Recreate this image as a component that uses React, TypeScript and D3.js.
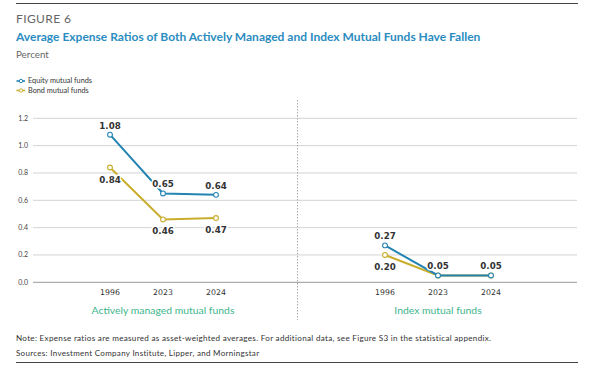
import React, { useRef, useEffect } from 'react';
import * as d3 from 'd3';

const years = ['1996', '2023', '2024'];
const panels = ['Actively managed mutual funds', 'Index mutual funds'];
const seriesNames = ['Equity mutual funds', 'Bond mutual funds'];
const activeEquity = [1.08, 0.65, 0.64];
const activeBond = [0.84, 0.46, 0.47];
const indexEquity = [0.27, 0.05, 0.05];
const indexBond = [0.2, 0.05, 0.05];
const yTicks = [0, 0.2, 0.4, 0.6, 0.8, 1.0, 1.2];

const BLUE = '#2384b2';
const GOLD = '#c9ad2c';
const FONT = 'Lato, "Open Sans", sans-serif';
const LABEL_FONT = '"DejaVu Sans", Verdana, sans-serif';

const App: React.FC = () => {
  const ref = useRef<SVGSVGElement>(null);

  useEffect(() => {
    const svg = d3.select(ref.current);
    svg.selectAll('*').remove();
    const width = 596;
    const height = 370;
    svg.attr('width', width).attr('height', height);

    // header / footer rules
    svg.append('line').attr('x1', 16).attr('x2', 578).attr('y1', 3.5).attr('y2', 3.5)
      .attr('stroke', '#444').attr('stroke-width', 1.2);
    svg.append('line').attr('x1', 16).attr('x2', 578).attr('y1', 362.5).attr('y2', 362.5)
      .attr('stroke', '#444').attr('stroke-width', 1.2);

    svg.append('text').attr('x', 16).attr('y', 22.5).text('FIGURE 6')
      .attr('font-family', FONT).attr('font-size', 12).attr('fill', '#666').attr('letter-spacing', 0.4);
    svg.append('text').attr('x', 16).attr('y', 41)
      .text('Average Expense Ratios of Both Actively Managed and Index Mutual Funds Have Fallen')
      .attr('font-family', FONT).attr('font-size', 12).attr('font-weight', 'bold').attr('fill', '#2b8cc0');
    svg.append('text').attr('x', 16).attr('y', 57.5).text('Percent')
      .attr('font-family', FONT).attr('font-size', 9.8).attr('fill', '#666');

    // legend
    const legendColors = [BLUE, GOLD];
    seriesNames.forEach((name, i) => {
      const ly = 81 + i * 9.5;
      svg.append('line').attr('x1', 16.5).attr('x2', 25).attr('y1', ly).attr('y2', ly)
        .attr('stroke', legendColors[i]).attr('stroke-width', 1.6);
      svg.append('circle').attr('cx', 21).attr('cy', ly).attr('r', 1.7)
        .attr('fill', '#fff').attr('stroke', legendColors[i]).attr('stroke-width', 1);
      svg.append('text').attr('x', 28).attr('y', ly + 2.4).text(name)
        .attr('font-family', FONT).attr('font-size', 7.3).attr('fill', '#333');
    });

    const y = d3.scaleLinear().domain([0, 1.2]).range([282.3, 118.3]);

    // gridlines
    const grid = svg.append('g');
    grid.selectAll('line').data(yTicks).join('line')
      .attr('x1', 33).attr('x2', 577)
      .attr('y1', d => y(d)).attr('y2', d => y(d))
      .attr('stroke', d => (d === 0 ? '#999' : '#d4d4d4')).attr('stroke-width', 1);
    grid.selectAll('text').data(yTicks).join('text')
      .attr('x', 28).attr('y', d => y(d) + 2.5).attr('text-anchor', 'end')
      .text(d => d.toFixed(1))
      .attr('font-family', FONT).attr('font-size', 7).attr('fill', '#444');

    // divider
    svg.append('line').attr('x1', 297.5).attr('x2', 297.5).attr('y1', 100).attr('y2', 320)
      .attr('stroke', '#aaa').attr('stroke-width', 1).attr('stroke-dasharray', '1.5,1.5');

    const xLeft = d3.scalePoint<string>().domain(years).range([110, 216]);
    const xRight = d3.scalePoint<string>().domain(years).range([385, 491]);

    type Series = { values: number[]; color: string; pos: ('above' | 'below' | 'none')[] };
    const panelDefs: { x: d3.ScalePoint<string>; name: string; series: Series[] }[] = [
      {
        x: xLeft, name: panels[0], series: [
          { values: activeBond, color: GOLD, pos: ['below', 'below', 'below'] },
          { values: activeEquity, color: BLUE, pos: ['above', 'above', 'above'] },
        ],
      },
      {
        x: xRight, name: panels[1], series: [
          { values: indexBond, color: GOLD, pos: ['below', 'none', 'none'] },
          { values: indexEquity, color: BLUE, pos: ['above', 'above', 'above'] },
        ],
      },
    ];

    panelDefs.forEach(p => {
      const g = svg.append('g');
      // x tick labels
      g.selectAll('text.tick').data(years).join('text').attr('class', 'tick')
        .attr('x', d => p.x(d)!).attr('y', 295).attr('text-anchor', 'middle')
        .text(d => d)
        .attr('font-family', LABEL_FONT).attr('font-size', 7.8).attr('fill', '#333');
      const [a, b] = p.x.range();
      g.append('text').attr('x', (a + b) / 2).attr('y', 313.5).attr('text-anchor', 'middle')
        .text(p.name)
        .attr('font-family', FONT).attr('font-size', 10.4).attr('fill', '#3db58c');

      const line = d3.line<number>().x((_, i) => p.x(years[i])!).y(d => y(d));
      p.series.forEach(s => {
        g.append('path').datum(s.values).attr('d', line)
          .attr('fill', 'none').attr('stroke', s.color).attr('stroke-width', 2);
        g.selectAll(null).data(s.values).join('circle')
          .attr('cx', (_, i) => p.x(years[i])!).attr('cy', d => y(d)).attr('r', 2.4)
          .attr('fill', '#fff').attr('stroke', s.color).attr('stroke-width', 1.1);
      });
      p.series.forEach(s => {
        s.values.forEach((v, i) => {
          if (s.pos[i] === 'none') return;
          const ty = s.pos[i] === 'above' ? y(v) - 6 : y(v) + 15;
          g.append('text').attr('x', p.x(years[i])!).attr('y', ty).attr('text-anchor', 'middle')
            .text(v.toFixed(2))
            .attr('font-family', LABEL_FONT).attr('font-size', 8.7).attr('font-weight', 'bold')
            .attr('fill', '#333').attr('stroke', '#fff').attr('stroke-width', 3)
            .attr('paint-order', 'stroke');
        });
      });
    });

    svg.append('text').attr('x', 16).attr('y', 341)
      .text('Note: Expense ratios are measured as asset-weighted averages. For additional data, see Figure S3 in the statistical appendix.')
      .attr('font-family', FONT).attr('font-size', 8.1).attr('letter-spacing', 0.3).attr('fill', '#333');
    svg.append('text').attr('x', 16).attr('y', 356)
      .text('Sources: Investment Company Institute, Lipper, and Morningstar')
      .attr('font-family', FONT).attr('font-size', 8).attr('letter-spacing', 0.3).attr('fill', '#333');
  }, []);

  return <svg ref={ref} style={{ position: 'absolute', left: 0, top: 0 }}></svg>;
};

export default App;
